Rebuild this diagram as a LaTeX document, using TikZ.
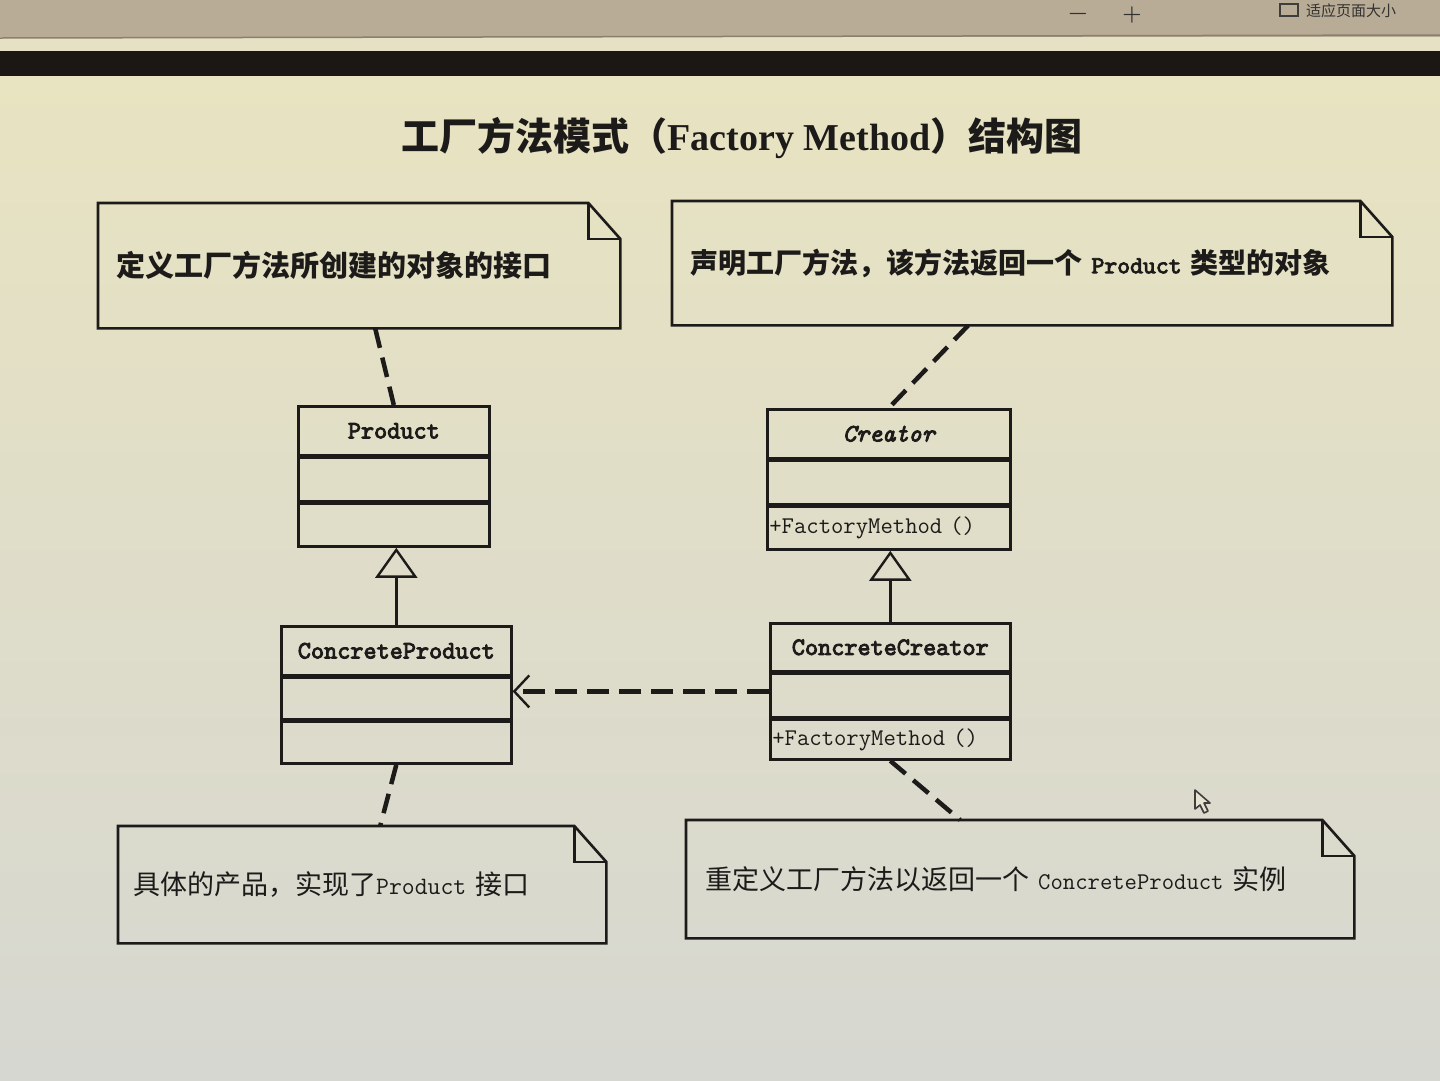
\documentclass[tikz,border=0pt]{standalone}
\usepackage{fontspec}
\newfontfamily\cjk{Noto Sans CJK SC}
\newfontfamily\titleserif{Liberation Serif}
\newfontfamily\monob[FakeBold=3.5]{lmmono10-regular.otf}
\newfontfamily\monobi[FakeBold=3.5]{lmmono10-italic.otf}
\usepackage{tikz}
\usetikzlibrary{arrows.meta,positioning}
\definecolor{ink}{HTML}{1C1B19}
\definecolor{stripbg}{HTML}{B9AC96}
\definecolor{stripline}{HTML}{8A806E}
\definecolor{paleband}{HTML}{E6E1C4}
\definecolor{barblack}{HTML}{1B1715}
\definecolor{pagetop}{HTML}{E8E3C1}
\definecolor{pagemid}{HTML}{E5E3D2}
\definecolor{pagebot}{HTML}{D6D7D1}
\tikzset{
  % klasser
  cls/.style={draw=ink,line width=2.6pt,inner sep=0pt,text=ink,
              font=\fontsize{24}{24}\selectfont\ttfamily},
  clshead/.style={cls,font=\fontsize{25}{25}\selectfont\monob},
  clsops/.style={cls,align=left,inner xsep=2pt},
  inherit/.style={-{Triangle[open,length=30pt,width=42pt,line width=2.4pt]},
                  draw=ink,line width=2.6pt},
  depend/.style={-{Straight Barb[length=15pt,width=32pt,line width=2.4pt]},
                 draw=ink,line width=4.5pt,dash pattern=on 22pt off 10pt},
  % kommentarer
  notebox/.style={anchor=north west,inner ysep=0pt,align=left,text=ink},
  noteline/.style={draw=ink,line width=2.6pt,line join=miter},
  notelink/.style={draw=ink,line width=4.5pt,dash pattern=on 20pt off 10pt},
  tool/.style={text=ink!90,inner sep=0pt,font=\fontsize{22}{22}\selectfont},
}
\begin{document}
\begin{tikzpicture}[x=1pt,y=-1pt]
\useasboundingbox (0,0) rectangle (1440,1080);
% skärm
\fill[stripbg] (0,0) rectangle (1440,37);
\fill[paleband] (0,37) rectangle (1440,51);
\draw[stripline,line width=1.5pt] (0,38) -- (1440,35);
\fill[barblack] (0,51) rectangle (1440,76);
\shade[top color=pagetop,middle color=pagemid,bottom color=pagebot] (0,76) rectangle (1440,1080);
\node[tool] (tminus) at (1078,16) {\bfseries −};
\node[tool] (tplus) at (1132,15) {\bfseries +};
\draw[ink!85,line width=1.8pt] (1280,4) rectangle (1298,16);
\node[tool,anchor=west,font=\cjk\fontsize{15}{15}\selectfont] (tfit) at (1306,11) {适应页面大小};

% rubrik
\node[text=ink,inner sep=0pt] (title) at (742,138)
  {\cjk\bfseries\fontsize{38}{38}\selectfont 工厂方法模式（{\titleserif\bfseries Factory Method}）结构图};

% kommentarer
\node[notebox,minimum height=125pt,text width=486pt,inner xsep=18pt,
      font=\cjk\bfseries\fontsize{29}{29}\selectfont] (n1) at (98,203)
  {定义工厂方法所创建的对象的接口};
\node[notebox,minimum height=124pt,text width=684pt,inner xsep=18pt,
      font=\cjk\bfseries\fontsize{28}{28}\selectfont] (n2) at (672,201)
  {声明工厂方法，该方法返回一个 {\fontsize{24.5}{28}\selectfont\monob Product} 类型的对象};
\node[notebox,minimum height=117pt,text width=458pt,inner xsep=15pt,
      font=\cjk\fontsize{27}{27}\selectfont] (n3) at (118,826)
  {具体的产品，实现了{\fontsize{25}{27}\selectfont\ttfamily Product} 接口};
\node[notebox,minimum height=118pt,text width=630pt,inner xsep=19pt,
      font=\cjk\fontsize{27}{27}\selectfont] (n4) at (686,820)
  {重定义工厂方法以返回一个 {\fontsize{24}{27}\selectfont\ttfamily ConcreteProduct} 实例};
\foreach \n in {n1,n2,n3,n4}{
  \draw[noteline] (\n.south west) -- (\n.north west) -- ([xshift=-32pt]\n.north east)
    -- ([yshift=-36pt]\n.north east) -- (\n.south east) -- cycle;
  \draw[noteline] ([xshift=-32pt]\n.north east) |- ([yshift=-36pt]\n.north east);
}

% Product
\node[clshead,minimum width=191pt,minimum height=49pt,anchor=north west] (prodh) at (297,405) {Product};
\node[cls,minimum width=191pt,minimum height=43pt,below=0pt of prodh] (proda) {};
\node[cls,minimum width=191pt,minimum height=43pt,below=0pt of proda] (prodo) {};
% ConcreteProduct
\node[clshead,minimum width=230pt,minimum height=49pt,anchor=north west] (cph) at (280,625) {ConcreteProduct};
\node[cls,minimum width=230pt,minimum height=41pt,below=0pt of cph] (cpa) {};
\node[cls,minimum width=230pt,minimum height=42pt,below=0pt of cpa] (cpo) {};
% Creator
\node[clshead,minimum width=243pt,minimum height=49pt,anchor=north west] (crth) at (766,408) {\monobi Creator};
\node[cls,minimum width=243pt,minimum height=43pt,below=0pt of crth] (crta) {};
\node[clsops,minimum width=243pt,minimum height=43pt,text width=239pt,below=0pt of crta] (crto) {+FactoryMethod ()};
% ConcreteCreator
\node[clshead,minimum width=240pt,minimum height=48pt,anchor=north west] (cch) at (769,622) {ConcreteCreator};
\node[cls,minimum width=240pt,minimum height=43pt,below=0pt of cch] (cca) {};
\node[clsops,minimum width=240pt,minimum height=40pt,text width=236pt,below=0pt of cca] (cco) {+FactoryMethod ()};

% relationer
\draw[inherit] (cph.north) -- (cph.north |- prodo.south);
\draw[inherit] (cch.north) -- (cch.north |- crto.south);
\draw[depend] ([yshift=4pt]cca.west) -- ([yshift=4pt]cca.west -| cpa.east);
\draw[notelink] ([xshift=16pt]n1.south) -- (prodh.north);
\draw[notelink] ([xshift=-64pt]n2.south) -- (crth.north);
\draw[notelink] (cpo.south) -- ([xshift=18pt]n3.north);
\draw[notelink] (cco.south) -- ([xshift=-60pt]n4.north);

% muspekare
\draw[ink!85,line width=1.6pt,fill=pagemid,line join=round]
  (1195,790) -- (1195,809) -- (1200,805) -- (1204,813) -- (1208,811) -- (1204,803) -- (1210,803) -- cycle;
\end{tikzpicture}
\end{document}
